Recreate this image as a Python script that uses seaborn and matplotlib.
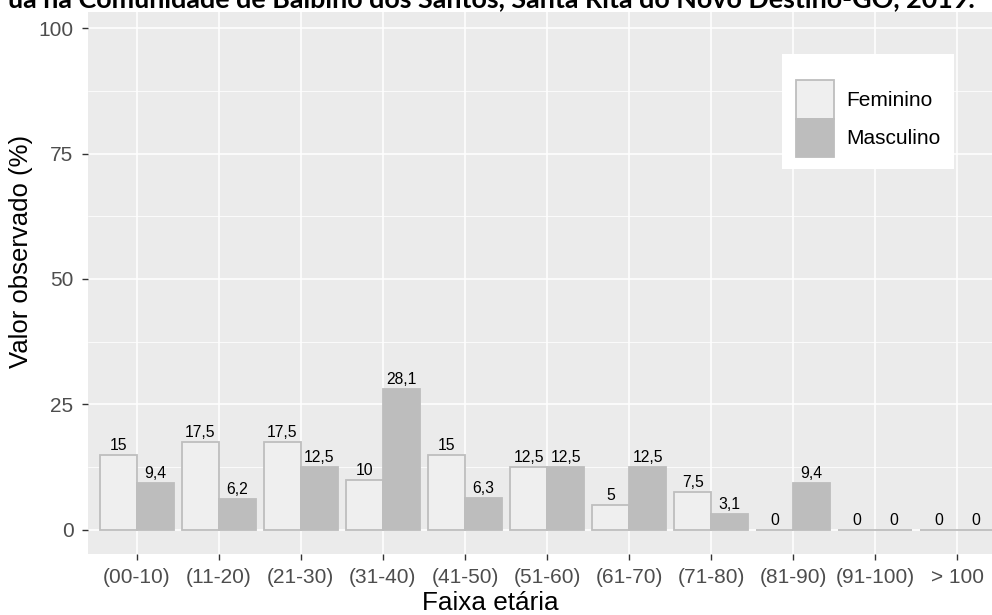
import matplotlib
matplotlib.use("Agg")
import matplotlib.pyplot as plt
import seaborn as sns
import pandas as pd
import numpy as np
from matplotlib.ticker import MultipleLocator
from matplotlib.patches import Rectangle

categories = ["(00-10)", "(11-20)", "(21-30)", "(31-40)", "(41-50)", "(51-60)",
              "(61-70)", "(71-80)", "(81-90)", "(91-100)", "> 100"]
feminino = [15, 17.5, 17.5, 10, 15, 12.5, 5, 7.5, 0, 0, 0]
masculino = [9.4, 6.2, 12.5, 28.1, 6.3, 12.5, 12.5, 3.1, 9.4, 0, 0]
series_names = ["Feminino", "Masculino"]
y_ticks = [0, 25, 50, 75, 100]
title_text = "ua na Comunidade de Balbino dos Santos, Santa Rita do Novo Destino-GO, 2019."

df = pd.DataFrame({
    "Faixa": categories * 2,
    "Sexo": [series_names[0]] * len(categories) + [series_names[1]] * len(categories),
    "Valor": feminino + masculino,
})

sns.set_theme(style="darkgrid")
plt.rcParams["font.family"] = ["Liberation Sans", "DejaVu Sans"]

W, H = 992, 615
fig = plt.figure(figsize=(W / 100, H / 100), dpi=100)
left_px, right_px, top_px, bottom_px = 87.5, 1006.6, 12, 554
ax = fig.add_axes([left_px / W, 1 - bottom_px / H, (right_px - left_px) / W, (bottom_px - top_px) / H])
ax.set_facecolor("#EBEBEB")

fill_colors = {"Feminino": "#EFEFEF", "Masculino": "#BDBDBD"}
edge_colors = {"Feminino": "#BEBEBE", "Masculino": "#BDBDBD"}
sns.barplot(data=df, x="Faixa", y="Valor", hue="Sexo", order=categories,
            hue_order=series_names, palette=fill_colors, width=0.9, gap=0,
            saturation=1, ax=ax, legend=True, linewidth=1.3)

for cont, name, vals in zip(ax.containers, series_names, [feminino, masculino]):
    for p in cont:
        p.set_edgecolor(edge_colors[name])
        p.set_linewidth(1.3)
    labels = [("%g" % v).replace(".", ",") for v in vals]
    ax.bar_label(cont, labels=labels, padding=1.5, fontsize=11.3, color="black")

ax.set_xlim(-0.6, 10.6)
ax.set_ylim(-4.8, 103.2)
ax.set_yticks(y_ticks)
ax.set_yticklabels([str(v) for v in y_ticks])
ax.yaxis.set_minor_locator(MultipleLocator(12.5))
ax.grid(which="major", color="white", linewidth=1.1)
ax.grid(which="minor", axis="y", color="white", linewidth=0.55)
ax.set_axisbelow(True)
for s in ax.spines.values():
    s.set_visible(False)

ax.tick_params(axis="both", which="major", bottom=True, left=True, length=4.5, width=1.0,
               color="#333333", labelsize=15, labelcolor="#4D4D4D", pad=5.5)
ax.tick_params(axis="both", which="minor", length=0)

ax.set_xlabel("Faixa etária", fontsize=18.8, color="black")
ax.set_ylabel("Valor observado (%)", fontsize=18.5, color="black")
ax.xaxis.set_label_coords(490 / W, 1 - 603 / H, transform=fig.transFigure)
ax.xaxis.label.set_va("center")
ax.yaxis.set_label_coords(21 / W, 1 - 251 / H, transform=fig.transFigure)
ax.yaxis.label.set_va("center")

# legend background box
ax.add_patch(Rectangle((782 / W, 1 - 169 / H), (954 - 782) / W, (169 - 54) / H,
                       transform=fig.transFigure, facecolor="white", edgecolor="none",
                       zorder=4, clip_on=False))
handles, labs = ax.get_legend_handles_labels()
for h, name in zip(handles, labs):
    h.set_facecolor(fill_colors[name])
    h.set_edgecolor(edge_colors[name])
    h.set_linewidth(1.3)
leg = ax.legend(handles, labs, loc="upper left",
                bbox_to_anchor=(796 / W, 1 - 80 / H), bbox_transform=fig.transFigure,
                frameon=False, fontsize=15, handlelength=1.83, handleheight=2.47,
                labelspacing=0.0, handletextpad=0.6, borderpad=0, borderaxespad=0)
leg.set_zorder(10)
for t in leg.get_texts():
    t.set_color("black")

fig.text(975 / W, 1 - 7.5 / H, title_text, ha="right", va="baseline",
         fontsize=19.4, fontweight="bold", family=["Lato", "DejaVu Sans"], color="black")

fig.savefig("out.png", dpi=100, facecolor="white")
